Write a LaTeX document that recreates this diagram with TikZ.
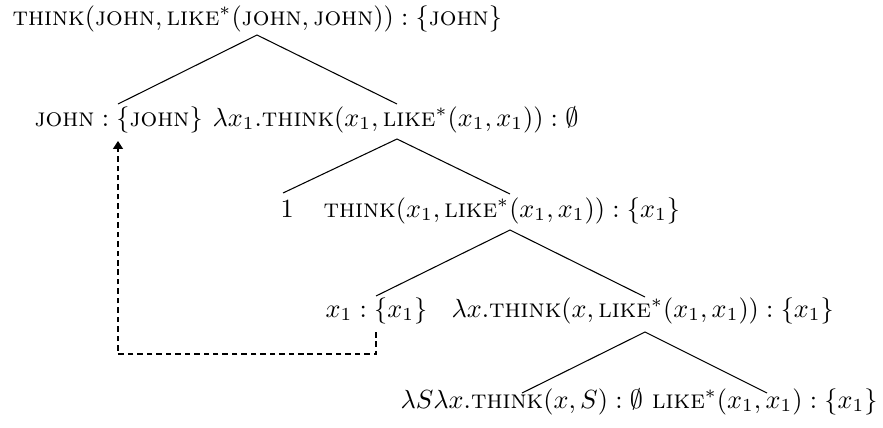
\documentclass[tikz,border=0pt]{standalone}
\usepackage{amssymb}
\usetikzlibrary{arrows.meta}
\newcommand{\Sc}[1]{\textsc{#1}}
\begin{document}
\begin{tikzpicture}[x=0.381pt,y=-0.381pt,
  lbl/.style={inner sep=0pt,anchor=base west},
  lble/.style={inner sep=0pt,anchor=base east},
  edge/.style={line width=0.4pt},
  mov/.style={dash pattern=on 2.1pt off 1.5pt,line width=0.4pt,-{Triangle[length=3pt,width=3.8pt]}}]
\useasboundingbox (0,0) rectangle (883,427);
% row 1
\node[lbl] (n0) at (12,25) {$\Sc{think}(\Sc{john},\Sc{like}^*(\Sc{john},\Sc{john})):\{\Sc{john}\}$};
% row 2
\node[lbl] (n1) at (34,126) {$\Sc{john}:\{\Sc{john}\}$};
\node[lbl] (n2) at (212,126) {$\lambda x_1.\Sc{think}(x_1,\Sc{like}^*(x_1,x_1)):\emptyset$};
% row 3
\node[lbl] (n3) at (280,217) {$1$};
\node[lbl] (n4) at (323,217) {$\Sc{think}(x_1,\Sc{like}^*(x_1,x_1)):\{x_1\}$};
% row 4
\node[lbl] (n5) at (325,317) {$x_1:\{x_1\}$};
\node[lbl] (n6) at (451,317) {$\lambda x.\Sc{think}(x,\Sc{like}^*(x_1,x_1)):\{x_1\}$};
% row 5
\node[lbl] (n7) at (400,408) {$\lambda S\lambda x.\Sc{think}(x,S):\emptyset$};
\node[lble] (n8) at (878,408) {$\Sc{like}^*(x_1,x_1):\{x_1\}$};
% edge points
\coordinate (a0) at (257,35);
\coordinate (t1) at (118,104);
\coordinate (t2) at (397,104);
\coordinate (a2) at (397,139);
\coordinate (t3) at (283,193);
\coordinate (t4) at (510,194);
\coordinate (a4) at (510,230);
\coordinate (t5) at (376,296);
\coordinate (t6) at (645,297);
\coordinate (a6) at (645,332);
\coordinate (t7) at (522,393);
\coordinate (t8) at (767,393);
\coordinate (d0) at (376,332);
\coordinate (d1) at (376,354);
\coordinate (d2) at (118,354);
\coordinate (d3) at (118,141);
\draw[edge] (t1) -- (a0) -- (t2);
\draw[edge] (t3) -- (a2) -- (t4);
\draw[edge] (t5) -- (a4) -- (t6);
\draw[edge] (t7) -- (a6) -- (t8);
\draw[mov] (d0) -- (d1) -- (d2) -- (d3);
\end{tikzpicture}
\end{document}
